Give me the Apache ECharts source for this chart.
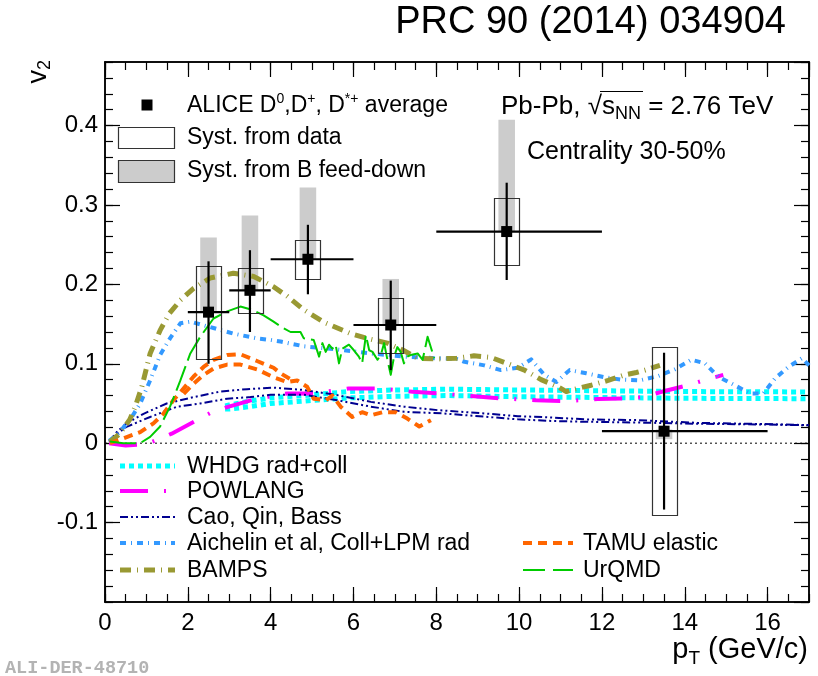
<!DOCTYPE html>
<html><head><meta charset="utf-8">
<script src="https://cdn.jsdelivr.net/npm/echarts@6/dist/echarts.min.js"></script>
<style>html,body{margin:0;padding:0;background:#fff}#c{width:818px;height:676px}</style>
</head><body><div id="c"></div>
<script>
// ---------- ALICE data ----------
const ptData   = [2.5, 3.5, 4.9, 6.9, 9.7, 13.5];
const v2Data   = [0.165, 0.1925, 0.2316, 0.1488, 0.2665, 0.0151];
const ptLow    = [2, 3, 4, 6, 8, 12];
const ptHigh   = [3, 4, 6, 8, 12, 16];
const statLow  = [0.100, 0.140, 0.1875, 0.092, 0.2055, -0.0836];
const statHigh = [0.229, 0.243, 0.275, 0.2047, 0.328, 0.1139];
const systLow  = [0.106, 0.164, 0.2068, 0.113, 0.2245, -0.0905];
const systHigh = [0.223, 0.2205, 0.256, 0.1824, 0.3086, 0.1206];
const fdLow    = [0.165, 0.1925, 0.2316, 0.1488, 0.2665, 0.005];
const fdHigh   = [0.259, 0.2866, 0.322, 0.2068, 0.4073, 0.0173];

// ---------- Models ----------
const whdgUpper = [[2.9,0.047],[3.0,0.048],[3.5,0.053],[4.0,0.057],[4.8,0.060],[5.9,0.065],[7.0,0.067],[8.3,0.068],[10,0.067],[12,0.066],[14,0.065],[17,0.0645]];
const whdgLower = [[2.9,0.043],[3.0,0.043],[3.5,0.046],[4.0,0.050],[4.8,0.053],[5.9,0.057],[7.0,0.059],[8.3,0.060],[10,0.0585],[12,0.0575],[14,0.0565],[17,0.056]];
const powlang = [[0.1,0],[0.5,-0.003],[1.0,-0.001],[1.3,0.005],[1.61,0.012],[2.22,0.029],[2.58,0.039],[2.99,0.046],[3.59,0.055],[4.0,0.059],[4.4,0.0626],[5.04,0.0626],[5.5,0.066],[5.89,0.069],[6.62,0.069],[7.0,0.067],[7.43,0.0647],[8.11,0.0626],[8.92,0.059],[9.6,0.0563],[10.41,0.054],[11.1,0.053],[11.9,0.0555],[12.59,0.0563],[13.0,0.058],[13.44,0.0647],[14.08,0.073],[14.45,0.079],[14.93,0.086]];
const caoUpper = [[0.1,0.002],[0.3,0.015],[0.52,0.025],[0.93,0.037],[1.49,0.05],[2.14,0.058],[2.78,0.065],[3.43,0.068],[4.07,0.070],[4.8,0.067],[5.61,0.0605],[6.42,0.052],[7.22,0.046],[8.03,0.0416],[9.16,0.0374],[9.97,0.034],[10.77,0.0324],[11.58,0.030],[12.87,0.029],[14.3,0.0256],[15.94,0.024],[17,0.0227]];
const caoLower = [[0.1,0.002],[0.3,0.012],[0.52,0.0206],[1.09,0.033],[1.74,0.046],[2.3,0.05],[2.95,0.056],[3.51,0.058],[4.0,0.061],[4.8,0.061],[5.61,0.054],[6.42,0.046],[7.22,0.0395],[8.19,0.0374],[9.16,0.0334],[9.97,0.030],[10.77,0.028],[11.58,0.027],[12.87,0.026],[14.3,0.0245],[15.94,0.0235],[17,0.0225]];
const aichelin = [[0.1,0.003],[0.28,0.010],[0.6,0.029],[0.85,0.05],[1.09,0.079],[1.33,0.111],[1.57,0.132],[1.82,0.151],[2.06,0.153],[2.62,0.145],[3.1,0.138],[3.67,0.132],[4.0,0.130],[4.24,0.128],[4.8,0.122],[5.61,0.118],[6.42,0.113],[7.22,0.109],[8.0,0.107],[8.5,0.106],[8.68,0.1025],[9.16,0.098],[9.56,0.092],[9.97,0.095],[10.29,0.1055],[10.61,0.086],[10.9,0.077],[11.22,0.092],[11.62,0.088],[12.07,0.083],[12.47,0.080],[12.91,0.079],[13.36,0.0845],[13.76,0.093],[14.16,0.105],[14.49,0.1005],[14.81,0.0836],[15.13,0.075],[15.58,0.0627],[15.9,0.0627],[16.18,0.0816],[16.51,0.0962],[16.83,0.107],[17.0,0.098]];
const bamps = [[0.12,0.002],[0.36,0.012],[0.6,0.03],[0.73,0.046],[0.89,0.071],[1.09,0.113],[1.33,0.142],[1.55,0.163],[1.82,0.180],[2.14,0.195],[2.54,0.208],[3.1,0.214],[3.59,0.21],[4.07,0.197],[4.4,0.185],[4.8,0.168],[5.3,0.152],[5.93,0.138],[6.4,0.131],[6.82,0.126],[7.2,0.117],[7.55,0.107],[8.0,0.106],[8.5,0.107],[8.91,0.110],[9.32,0.108],[9.73,0.100],[10.13,0.092],[10.53,0.080],[10.94,0.071],[11.14,0.065],[11.34,0.068],[11.74,0.073],[12.15,0.079],[12.55,0.086],[12.83,0.089],[13.04,0.092],[13.4,0.098]];
const tamuUpper = [[0.12,0],[0.44,0.006],[0.85,0.014],[1.17,0.025],[1.41,0.037],[1.65,0.054],[1.9,0.069],[2.14,0.084],[2.38,0.096],[2.62,0.105],[2.95,0.111],[3.27,0.112],[3.67,0.1035],[4.07,0.095],[4.24,0.088],[4.5,0.080]];
const tamuLower = [[1.9,0.062],[2.14,0.075],[2.38,0.086],[2.62,0.094],[2.95,0.099],[3.27,0.099],[3.67,0.093],[4.07,0.083],[4.4,0.077],[4.64,0.079],[4.88,0.071],[5.04,0.056],[5.33,0.054],[5.49,0.060],[5.69,0.046],[5.97,0.033],[6.21,0.039],[6.42,0.035],[6.7,0.039],[7.02,0.039],[7.3,0.031],[7.59,0.021],[7.87,0.029]];
const urqmd = [[0.12,0.002],[0.44,0],[0.85,0],[1.09,0.008],[1.33,0.021],[1.57,0.046],[1.82,0.079],[2.06,0.113],[2.3,0.134],[2.62,0.157],[2.95,0.166],[3.27,0.172],[3.55,0.168],[3.83,0.161],[4.07,0.153],[4.24,0.147],[4.48,0.140],[4.72,0.140],[4.8,0.132],[5.04,0.130],[5.17,0.109],[5.25,0.126],[5.33,0.115],[5.41,0.124],[5.49,0.119],[5.57,0.124],[5.65,0.1005],[5.73,0.119],[5.89,0.124],[6.01,0.117],[6.13,0.109],[6.21,0.1005],[6.30,0.136],[6.38,0.117],[6.46,0.115],[6.58,0.105],[6.66,0.111],[6.74,0.126],[6.82,0.105],[6.90,0.086],[6.98,0.109],[7.06,0.121],[7.14,0.115],[7.22,0.1005],[7.30,0.109],[7.38,0.111],[7.55,0.113],[7.67,0.105],[7.79,0.134],[7.95,0.107]];
const zeroLine = [[0,0],[17,0]];

const xTickLabels = [0,2,4,6,8,10,12,14,16];
const yTickLabels = [-0.1,0,0.1,0.2,0.3,0.4];

const F = '"Liberation Sans", Arial, Helvetica, sans-serif';
const chart = echarts.init(document.getElementById('c'), null, {renderer:'canvas'});

function axisCommon(extra){
  return Object.assign({type:'value', splitLine:{show:false}, axisLine:{show:true, onZero:false, lineStyle:{color:'#000', width:1.5}},
    axisTick:{show:true, inside:true, lineStyle:{color:'#000', width:1.2}}, axisLabel:{show:false}}, extra);
}
const xMajorLabel = {show:true, fontSize:24, fontFamily:F, color:'#000', margin:9, showMaxLabel:false,
  formatter: v => xTickLabels.includes(Math.round(v*100)/100) ? String(v) : ''};
const yMajorLabel = {show:true, fontSize:24, fontFamily:F, color:'#000', margin:7, showMinLabel:false, showMaxLabel:false,
  formatter: v => { const r = Math.round(v*1000)/1000; return yTickLabels.includes(r) ? String(r) : ''; }};

const xAxes = [
  axisCommon({min:0,max:17,interval:2,position:'bottom',axisTick:{show:true,inside:true,length:15,lineStyle:{color:'#000',width:1.2}},axisLabel:xMajorLabel}),
  axisCommon({min:0,max:17,interval:0.5,position:'bottom',axisTick:{show:true,inside:true,length:8,lineStyle:{color:'#000',width:1.2}}}),
  axisCommon({min:0,max:17,interval:2,position:'top',axisTick:{show:true,inside:true,length:15,lineStyle:{color:'#000',width:1.2}}}),
  axisCommon({min:0,max:17,interval:0.5,position:'top',axisTick:{show:true,inside:true,length:8,lineStyle:{color:'#000',width:1.2}}})
];
const yAxes = [
  axisCommon({min:-0.2,max:0.48,interval:0.1,position:'left',axisTick:{show:true,inside:true,length:15,lineStyle:{color:'#000',width:1.2}},axisLabel:yMajorLabel}),
  axisCommon({min:-0.2,max:0.48,interval:0.02,position:'left',axisTick:{show:true,inside:true,length:8,lineStyle:{color:'#000',width:1.2}}}),
  axisCommon({min:-0.2,max:0.48,interval:0.1,position:'right',axisTick:{show:true,inside:true,length:15,lineStyle:{color:'#000',width:1.2}}}),
  axisCommon({min:-0.2,max:0.48,interval:0.02,position:'right',axisTick:{show:true,inside:true,length:8,lineStyle:{color:'#000',width:1.2}}})
];

function curve(name, data, color, width, dash, z){
  return {name, type:'line', data, symbol:'none', showSymbol:false, silent:true, clip:true, z:z||3,
    lineStyle:{color, width, type:dash, cap:'butt', join:'round'}, animation:false};
}

const pointRows = ptData.map((p,i)=>[p, v2Data[i], ptLow[i], ptHigh[i], statLow[i], statHigh[i], systLow[i], systHigh[i], fdLow[i], fdHigh[i]]);

const series = [
  {name:'fd', type:'custom', data:pointRows, z:1, silent:true, encode:{x:0,y:1},
   renderItem:(params, api)=>{
     const x=api.value(0);
     const a=api.coord([x-0.2, api.value(9)]), b=api.coord([x+0.2, api.value(8)]);
     return {type:'rect', shape:{x:a[0], y:a[1], width:b[0]-a[0], height:b[1]-a[1]}, style:{fill:'#cccccc'}};
   }},
  {name:'zero', type:'line', data:zeroLine, symbol:'none', silent:true, z:2, lineStyle:{color:'#000', width:1, type:[2,3]}},
  curve('WHDG upper', whdgUpper, '#00ffff', 5, [5,4]),
  curve('WHDG lower', whdgLower, '#00ffff', 5, [5,4]),
  curve('POWLANG', powlang, '#ff00ff', 4, [28,16,2,16]),
  curve('Cao upper', caoUpper, '#000090', 2, [8,3,2,3,2,3]),
  curve('Cao lower', caoLower, '#000090', 2, [8,3,2,3,2,3]),
  curve('Aichelin', aichelin, '#3399ff', 4, [6,5,1,5]),
  curve('BAMPS', bamps, '#999933', 5, [11,6,1,6]),
  curve('TAMU upper', tamuUpper, '#ff6600', 4, [9,6]),
  curve('TAMU lower', tamuLower, '#ff6600', 4, [9,6]),
  curve('UrQMD', urqmd, '#00cc00', 2, [26,6]),
  {name:'syst', type:'custom', data:pointRows, z:5, silent:true, encode:{x:0,y:1},
   renderItem:(params, api)=>{
     const x=api.value(0);
     const a=api.coord([x-0.3, api.value(7)]), b=api.coord([x+0.3, api.value(6)]);
     return {type:'rect', shape:{x:Math.round(a[0])+0.5, y:Math.round(a[1])+0.5, width:Math.round(b[0]-a[0]), height:Math.round(b[1]-a[1])}, style:{fill:'none', stroke:'#333', lineWidth:1.2}};
   }},
  {name:'ALICE', type:'custom', data:pointRows, z:6, silent:true, encode:{x:0,y:1},
   renderItem:(params, api)=>{
     const x=api.value(0), y=api.value(1);
     const c=api.coord([x,y]);
     const l=api.coord([api.value(2),y]), r=api.coord([api.value(3),y]);
     const t=api.coord([x,api.value(5)]), b=api.coord([x,api.value(4)]);
     return {type:'group', children:[
       {type:'line', shape:{x1:l[0],y1:c[1],x2:r[0],y2:c[1]}, style:{stroke:'#000', lineWidth:2.2}},
       {type:'line', shape:{x1:c[0],y1:t[1],x2:c[0],y2:b[1]}, style:{stroke:'#000', lineWidth:2.2}},
       {type:'rect', shape:{x:c[0]-5.5, y:c[1]-5.5, width:11, height:11}, style:{fill:'#000'}}
     ]};
   }}
];

function T(x, y, text, size, opts){
  opts = opts || {};
  return {type:'text', x, y, silent:true, z:100, rotation:opts.rotation||0,
    style:Object.assign({text, fontSize:size, fontFamily:opts.family||F, fill:opts.fill||'#000',
      align:opts.align||'left', verticalAlign:opts.va||'middle', fontWeight:opts.weight||'normal'}, opts.rich?{rich:opts.rich}:{})};
}
function L(x1,y1,x2,y2,color,width,dash){
  return {type:'line', silent:true, z:100, shape:{x1,y1,x2,y2}, style:{stroke:color, lineWidth:width, lineDash:dash||null, lineCap:'butt'}};
}
const sup = {fontSize:14, fontFamily:F, verticalAlign:'top', lineHeight:28};
const nrm = {fontSize:23, fontFamily:F, lineHeight:28};

const graphics = [
  T(786, 23, 'PRC 90 (2014) 034904', 38, {align:'right'}),
  T(39, 60, '{n|v}{s|2}', 27, {align:'right', rotation:Math.PI/2, rich:{n:{fontSize:27,fontFamily:F,lineHeight:31}, s:{fontSize:18,fontFamily:F,verticalAlign:'bottom',lineHeight:31}}}),
  T(808, 650, '{n|p}{s|T}{n| (GeV/c)}', 29, {align:'right', rich:{n:{fontSize:29,fontFamily:F,lineHeight:36}, s:{fontSize:19,fontFamily:F,verticalAlign:'bottom',lineHeight:36}}}),
  T(5, 668, 'ALI-DER-48710', 18.5, {family:'"Liberation Mono", "DejaVu Sans Mono", monospace', fill:'#b3b3b3', weight:'bold'}),
  // upper legend
  {type:'rect', silent:true, z:100, shape:{x:141.5, y:99.5, width:11, height:11}, style:{fill:'#000'}},
  T(187, 106, '{n|ALICE D}{s|0}{n|,D}{s|+}{n|, D}{s|*+}{n| average}', 23, {rich:{n:nrm, s:sup}}),
  {type:'rect', silent:true, z:100, shape:{x:118.5, y:127.5, width:56, height:21}, style:{fill:'#fff', stroke:'#333', lineWidth:1.2}},
  T(187, 138, 'Syst. from data', 23),
  {type:'rect', silent:true, z:100, shape:{x:118.5, y:160.5, width:56, height:22}, style:{fill:'#cccccc', stroke:'#333', lineWidth:1.2}},
  T(187, 171, 'Syst. from B feed-down', 23),
  T(501, 107, '{n|Pb-Pb, √s}{s|NN}{n| = 2.76 TeV}', 26, {rich:{n:{fontSize:26,fontFamily:F,lineHeight:32}, s:{fontSize:18,fontFamily:F,verticalAlign:'bottom',lineHeight:32}}}),
  L(600, 91.5, 643, 91.5, '#000', 1.2),
  T(527, 152, 'Centrality 30-50%', 25),
  // lower legend
  L(120, 466, 175, 466, '#00ffff', 5, [5,4]),
  T(187, 467, 'WHDG rad+coll', 23),
  L(120, 491, 175, 491, '#ff00ff', 4, [28,16,2,16]),
  T(187, 492, 'POWLANG', 23),
  L(120, 517, 175, 517, '#000090', 2, [8,3,2,3,2,3]),
  T(187, 518, 'Cao, Qin, Bass', 23),
  L(120, 543, 175, 543, '#3399ff', 4, [6,5,1,5]),
  T(187, 544, 'Aichelin et al, Coll+LPM rad', 23),
  L(120, 570, 175, 570, '#999933', 5, [11,6,1,6]),
  T(187, 571, 'BAMPS', 23),
  L(523, 543, 573, 543, '#ff6600', 4, [9,6]),
  T(583, 544, 'TAMU elastic', 23),
  L(523, 570, 573, 570, '#00cc00', 2, [22,8]),
  T(583, 571, 'UrQMD', 23)
];

chart.setOption({
  animation:false,
  backgroundColor:'#fff',
  grid:{left:105, right:9, top:62, bottom:74, containLabel:false, outerBoundsMode:'none'},
  xAxis:xAxes,
  yAxis:yAxes,
  series,
  graphic:graphics
});
</script></body></html>
